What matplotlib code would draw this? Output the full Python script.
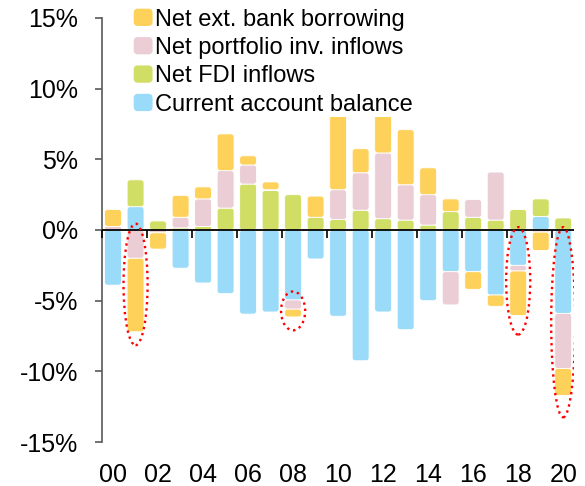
import numpy as np
import matplotlib.pyplot as plt
from matplotlib.patches import FancyBboxPatch, Ellipse, Patch
from matplotlib.legend_handler import HandlerPatch
from matplotlib.ticker import FuncFormatter

plt.rcParams['font.family'] = ['Liberation Sans', 'DejaVu Sans']

# Capital flows and current account, % of GDP, 2000-2020
years = [f"{y:02d}" for y in range(0, 21)]
current_account = [-3.9, 1.65, 0.0, -2.7, -3.75, -4.5, -5.95, -5.8, -4.95, -2.05, -6.1,
                   -9.25, -5.8, -7.05, -5.0, -2.95, -2.95, -4.6, -2.5, 0.95, -5.9]
fdi_inflows = [0.0, 1.9, 0.64, 0.15, 0.25, 1.55, 3.25, 2.8, 2.5, 0.9, 0.75,
               1.4, 0.8, 0.7, 0.35, 1.3, 0.9, 0.7, 1.45, 1.25, 0.85]
portfolio_inflows = [0.25, -2.0, -0.2, 0.75, 1.95, 2.65, 1.35, 0.05, -0.65, 0.0, 2.1,
                     2.65, 4.65, 2.5, 2.15, -2.35, 1.25, 3.4, -0.4, -0.15, -3.9]
bank_borrowing = [1.2, -5.2, -1.15, 1.55, 0.85, 2.6, 0.65, 0.55, -0.55, 1.5, 5.8,
                  1.7, 3.0, 3.9, 1.9, 0.9, -1.25, -0.8, -3.15, -1.3, -1.9]

series = [
    ("Current account balance", current_account, "#99dbf8"),
    ("Net FDI inflows", fdi_inflows, "#d0de66"),
    ("Net portfolio inv. inflows", portfolio_inflows, "#ebcdd6"),
    ("Net ext. bank borrowing", bank_borrowing, "#fed15b"),
]

# episodes circled on the chart: (year index, top, bottom)
highlights = [(1, 0.45, -8.15), (8, -4.35, -7.1), (18, 0.2, -7.4), (20, 0.2, -13.25)]

ASPECT = 1.57  # x-unit / y-unit pixel ratio, keeps corners circular
RADIUS = 0.13


def rounded(x, y, w, h, color):
    rs = min(RADIUS, w / 2, h / ASPECT / 2)
    return FancyBboxPatch((x, y), w, h,
                          boxstyle=f"round,pad=0,rounding_size={rs}",
                          mutation_aspect=ASPECT, fc=color, ec="white",
                          lw=0.6, zorder=2)


def round_bars(ax, bars, color):
    for b in bars:
        x, y = b.get_xy()
        w, h = b.get_width(), b.get_height()
        b.remove()
        if h == 0:
            continue
        if h < 0:
            y, h = y + h, -h
        ax.add_patch(rounded(x, y, w, h, color))


def legend_box(legend, orig_handle, xdescent, ydescent, width, height, fontsize):
    return FancyBboxPatch((-xdescent, -ydescent), width, height,
                          boxstyle="round,pad=0,rounding_size=3")


fig, ax = plt.subplots(figsize=(5.85, 4.86), dpi=100)
fig.subplots_adjust(left=0.174, right=0.982, top=0.963, bottom=0.0905)

x = np.arange(len(years))
width = 0.75
pos_base = np.zeros(len(years))
neg_base = np.zeros(len(years))
handles = []
for label, values, color in series:
    v = np.array(values)
    base = np.where(v >= 0, pos_base, neg_base)
    bars = ax.bar(x, v, width, bottom=base, color=color)
    round_bars(ax, bars, color)
    pos_base += np.clip(v, 0, None)
    neg_base += np.clip(v, None, 0)
    handles.append(Patch(facecolor=color, label=label))

# zero line with category-boundary ticks
ax.axhline(0, color="black", lw=1.3, zorder=4)
ax.plot(np.arange(-0.5, 20, 2), np.zeros(11), ls="none", marker=3,
        ms=6, mew=1.2, color="black", zorder=4, clip_on=False)

for i, top, bottom in highlights:
    ax.add_patch(Ellipse((i, (top + bottom) / 2), 1.07, top - bottom,
                         fill=False, ec="red", lw=1.7, ls=":", zorder=5))

ax.set_xlim(-0.5, 20.5)
ax.set_ylim(-15, 15)
ax.set_yticks(np.arange(-15, 16, 5))
ax.yaxis.set_major_formatter(FuncFormatter(lambda v, _: f"{v:.0f}%"))
ax.set_xticks(x[::2])
ax.set_xticklabels(years[::2])

for s in ["top", "right", "bottom"]:
    ax.spines[s].set_visible(False)
ax.spines["left"].set_color("#595959")
ax.spines["left"].set_linewidth(1.2)
ax.tick_params(axis="y", length=5, width=1.2, color="#595959", pad=12,
               labelsize=18)
ax.tick_params(axis="x", length=0, pad=15, labelsize=18)

leg = ax.legend(handles[::-1], [h.get_label() for h in handles[::-1]],
                loc="upper left", bbox_to_anchor=(0.065, 1.025),
                fontsize=17, frameon=True, facecolor="white", edgecolor="none",
                framealpha=1, fancybox=False, borderpad=0.05,
                borderaxespad=0, labelspacing=0.27, handlelength=0.8,
                handleheight=0.75, handletextpad=0.1,
                handler_map={Patch: HandlerPatch(patch_func=legend_box)})
leg.set_zorder(6)

fig.savefig("out.png", dpi=100)
